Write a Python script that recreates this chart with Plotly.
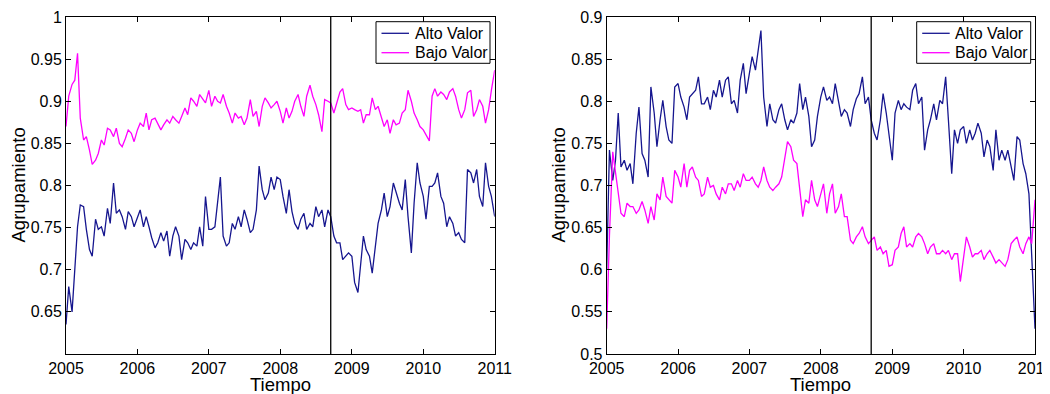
import pandas as pd
import plotly.graph_objects as go

# Semi-monthly sampling dates (1st and 15th of each month), 2005-01-01 .. 2011-01-01
fechas = pd.date_range("2005-01-01", "2011-01-01", freq="SMS")

# Left panel
izq_alto = [
    0.635, 0.68, 0.65, 0.70, 0.751, 0.777, 0.775, 0.748, 0.724, 0.716,
    0.76, 0.748, 0.751, 0.74, 0.773, 0.755, 0.803, 0.767, 0.771, 0.763,
    0.748, 0.769, 0.763, 0.751, 0.763, 0.771, 0.751, 0.763, 0.751, 0.738,
    0.726, 0.732, 0.744, 0.734, 0.746, 0.716, 0.74, 0.751, 0.74, 0.712,
    0.736, 0.732, 0.724, 0.732, 0.728, 0.751, 0.728, 0.787, 0.748, 0.748,
    0.751, 0.783, 0.81, 0.74, 0.728, 0.732, 0.755, 0.748, 0.763, 0.751,
    0.771, 0.76, 0.744, 0.748, 0.771, 0.823, 0.795, 0.783, 0.791, 0.81,
    0.795, 0.81, 0.807, 0.787, 0.767, 0.795, 0.769, 0.755, 0.748, 0.76,
    0.767, 0.748, 0.755, 0.751, 0.775, 0.763, 0.771, 0.751, 0.771, 0.763,
    0.74, 0.732, 0.732, 0.712, 0.716, 0.72,
    0.716, 0.685, 0.673, 0.708, 0.74, 0.724, 0.716, 0.696, 0.732, 0.755,
    0.771, 0.791, 0.763, 0.775, 0.803, 0.791, 0.779, 0.771, 0.807, 0.763,
    0.72, 0.779, 0.827, 0.803, 0.787, 0.76, 0.799, 0.799, 0.803, 0.815,
    0.787, 0.779, 0.751, 0.763, 0.755, 0.74, 0.744, 0.736, 0.732, 0.819,
    0.815, 0.803, 0.819, 0.787, 0.775, 0.827, 0.799, 0.787, 0.763,
]
izq_bajo = [
    0.87, 0.906, 0.92, 0.925, 0.957, 0.88, 0.854, 0.858, 0.842, 0.825,
    0.830, 0.838, 0.854, 0.848, 0.868, 0.866, 0.858, 0.868, 0.85, 0.846,
    0.856, 0.866, 0.862, 0.852, 0.866, 0.874, 0.87, 0.886, 0.866, 0.878,
    0.88, 0.874, 0.866, 0.872, 0.878, 0.874, 0.882, 0.878, 0.874, 0.882,
    0.892, 0.884, 0.904, 0.9, 0.894, 0.908, 0.902, 0.898, 0.913, 0.894,
    0.906, 0.9, 0.898, 0.908, 0.894, 0.886, 0.874, 0.886, 0.88, 0.882,
    0.872, 0.88, 0.902, 0.882, 0.888, 0.87, 0.894, 0.904, 0.898, 0.892,
    0.896, 0.9, 0.888, 0.874, 0.892, 0.88, 0.888, 0.9, 0.908, 0.894,
    0.882, 0.906, 0.919, 0.906, 0.896, 0.884, 0.864, 0.902, 0.9, 0.898,
    0.886, 0.896, 0.911, 0.915, 0.896, 0.89,
    0.892, 0.89, 0.888, 0.89, 0.874, 0.884, 0.884, 0.904, 0.89, 0.894,
    0.88, 0.87, 0.878, 0.862, 0.878, 0.872, 0.874, 0.886, 0.89, 0.913,
    0.9, 0.886, 0.878, 0.87, 0.866, 0.86, 0.853, 0.906, 0.915, 0.906,
    0.911, 0.908, 0.902, 0.911, 0.915, 0.906, 0.89, 0.88, 0.89, 0.91,
    0.913, 0.882, 0.89, 0.902, 0.894, 0.874, 0.89, 0.913, 0.937,
]

# Right panel
der_alto = [
    0.60, 0.742, 0.706, 0.73, 0.786, 0.722, 0.73, 0.718, 0.726, 0.702,
    0.762, 0.793, 0.738, 0.73, 0.71, 0.817, 0.786, 0.746, 0.778, 0.801,
    0.77, 0.754, 0.75, 0.817, 0.821, 0.805, 0.793, 0.778, 0.805, 0.809,
    0.813, 0.829, 0.797, 0.797, 0.805, 0.79, 0.813, 0.805, 0.825, 0.805,
    0.825, 0.829, 0.797, 0.801, 0.786, 0.825, 0.845, 0.809,
    0.835, 0.853, 0.837, 0.861, 0.884, 0.805, 0.77, 0.797, 0.778, 0.774,
    0.79, 0.797, 0.778, 0.766, 0.778, 0.774, 0.786, 0.821, 0.79, 0.805,
    0.782, 0.746, 0.754, 0.782, 0.805, 0.817, 0.801, 0.805, 0.797, 0.821,
    0.801, 0.782, 0.79, 0.786, 0.77, 0.79, 0.803, 0.809, 0.829, 0.797,
    0.805, 0.778, 0.762, 0.754, 0.778, 0.809, 0.786, 0.76,
    0.73, 0.786, 0.801, 0.79, 0.797, 0.793, 0.79, 0.813, 0.821, 0.797,
    0.805, 0.742, 0.766, 0.778, 0.797, 0.778, 0.801, 0.797, 0.829, 0.778,
    0.714, 0.766, 0.75, 0.766, 0.77, 0.75, 0.766, 0.754, 0.762, 0.774,
    0.762, 0.734, 0.754, 0.746, 0.718, 0.766, 0.73, 0.742, 0.73, 0.742,
    0.722, 0.706, 0.758, 0.754, 0.726, 0.714, 0.69, 0.623, 0.53,
]
der_bajo = [
    0.53, 0.64, 0.74, 0.714, 0.69, 0.667, 0.663, 0.679, 0.675, 0.675,
    0.667, 0.671, 0.681, 0.671, 0.655, 0.675, 0.659, 0.69, 0.683, 0.71,
    0.687, 0.683, 0.679, 0.718, 0.71, 0.698, 0.726, 0.698, 0.718, 0.722,
    0.71, 0.706, 0.687, 0.69, 0.71, 0.698, 0.7, 0.69, 0.683, 0.698,
    0.69, 0.702, 0.702, 0.694, 0.706, 0.698, 0.714, 0.706,
    0.706, 0.71, 0.702, 0.698, 0.706, 0.722, 0.706, 0.698, 0.694, 0.698,
    0.702, 0.71, 0.73, 0.752, 0.746, 0.73, 0.726, 0.698, 0.663, 0.683,
    0.679, 0.706, 0.683, 0.675, 0.69, 0.702, 0.667, 0.69, 0.702, 0.667,
    0.675, 0.69, 0.663, 0.663, 0.635, 0.631, 0.639, 0.643, 0.651, 0.639,
    0.631, 0.635, 0.639, 0.623, 0.627, 0.619, 0.623, 0.604,
    0.606, 0.623, 0.627, 0.643, 0.651, 0.627, 0.631, 0.627, 0.639, 0.643,
    0.639, 0.631, 0.619, 0.627, 0.631, 0.619, 0.619, 0.623, 0.619, 0.623,
    0.612, 0.619, 0.619, 0.586, 0.619, 0.639, 0.627, 0.615, 0.619, 0.619,
    0.623, 0.612, 0.619, 0.623, 0.615, 0.608, 0.612, 0.608, 0.604, 0.612,
    0.631, 0.635, 0.639, 0.627, 0.619, 0.631, 0.639, 0.631, 0.683,
]

anios = ["2005", "2006", "2007", "2008", "2009", "2010", "2011"]
izq_yticks = [0.65, 0.7, 0.75, 0.8, 0.85, 0.9, 0.95, 1.0]
izq_ylabels = ["0.65", "0.7", "0.75", "0.8", "0.85", "0.9", "0.95", "1"]
der_yticks = [0.5, 0.55, 0.6, 0.65, 0.7, 0.75, 0.8, 0.85, 0.9]
der_ylabels = ["0.5", "0.55", "0.6", "0.65", "0.7", "0.75", "0.8", "0.85", "0.9"]
series_names = ["Alto Valor", "Bajo Valor"]
crisis = "2008-09-15"

AZUL = "#16168f"
MAGENTA = "#ff00ff"
COLORS = [AZUL, MAGENTA]
FONT = "Liberation Sans, Arial, sans-serif"

fig = go.Figure()
for xa, ya, series in [("x", "y", [izq_alto, izq_bajo]), ("x2", "y2", [der_alto, der_bajo])]:
    for name, vals, col in zip(series_names, series, COLORS):
        fig.add_trace(go.Scatter(x=fechas, y=vals, mode="lines", name=name, showlegend=False,
                                 line=dict(color=col, width=1.3), xaxis=xa, yaxis=ya))

# The page body adds an 8px offset; size the figure so it fills the window exactly
OFF = 8
W, H = 1050 - OFF, 394 - OFF


def px(x):
    return (x - OFF) / W


def py(y):
    return 1 - (y - OFF) / H


dom_y = [py(354), py(17)]
dom_x1 = [px(66), px(494.7)]
dom_x2 = [px(606.7), px(1035)]
tickvals_x = [f"{a}-01-01" for a in anios]

common_x = dict(type="date", range=["2005-01-01", "2011-01-01"], tickvals=tickvals_x, ticktext=anios,
                showgrid=False, zeroline=False, showline=True, linecolor="black", linewidth=1,
                mirror="ticks", ticks="inside", ticklen=5, tickcolor="black", automargin=False,
                ticklabeloverflow="allow",
                tickfont=dict(family=FONT, size=16, color="black"))
common_y = dict(showgrid=False, zeroline=False, showline=True, linecolor="black", linewidth=1,
                mirror="ticks", ticks="inside", ticklen=5, tickcolor="black", automargin=False,
                tickfont=dict(family=FONT, size=16, color="black"))

fig.update_layout(
    width=W, height=H,
    margin=dict(l=0, r=0, t=0, b=0, autoexpand=False),
    paper_bgcolor="white", plot_bgcolor="white",
    showlegend=False,
    xaxis=dict(domain=dom_x1, anchor="y", **common_x),
    yaxis=dict(domain=dom_y, anchor="x", range=[0.6, 1.0], tickvals=izq_yticks, ticktext=izq_ylabels, **common_y),
    xaxis2=dict(domain=dom_x2, anchor="y2", **common_x),
    yaxis2=dict(domain=dom_y, anchor="x2", range=[0.5, 0.9], tickvals=der_yticks, ticktext=der_ylabels, **common_y),
)

for xr in ["x", "x2"]:
    yr = "y" if xr == "x" else "y2"
    fig.add_shape(type="line", xref=xr, yref=f"{yr} domain", x0=crisis, x1=crisis, y0=0, y1=1,
                  line=dict(color="black", width=1.3))

# Legend boxes (MATLAB-style, compact)
for left in [376, 916.7]:
    fig.add_shape(type="rect", xref="paper", yref="paper",
                  x0=px(left), x1=px(left + 114), y0=py(63.3), y1=py(21.7),
                  line=dict(color="black", width=1), fillcolor="white", layer="above")
    for name, col, yc in zip(series_names, COLORS, [33.3, 52.7]):
        fig.add_shape(type="line", xref="paper", yref="paper",
                      x0=px(left + 5.5), x1=px(left + 33), y0=py(yc), y1=py(yc),
                      line=dict(color=col, width=1.3), layer="above")
        fig.add_annotation(text=name, x=px(left + 36.5), y=py(yc), xref="paper", yref="paper",
                           showarrow=False, xanchor="left", yanchor="middle",
                           font=dict(family=FONT, size=16, color="black"))

# Axis titles
for cx, lx in [((dom_x1[0] + dom_x1[1]) / 2, px(18)), ((dom_x2[0] + dom_x2[1]) / 2, px(558))]:
    fig.add_annotation(text="Tiempo", x=cx, y=py(384), xref="paper", yref="paper",
                       showarrow=False, font=dict(family=FONT, size=18.5, color="black"),
                       xanchor="center", yanchor="middle")
    fig.add_annotation(text="Agrupamiento", x=lx, y=py(185.5), xref="paper", yref="paper",
                       showarrow=False, textangle=-90, font=dict(family=FONT, size=18.5, color="black"),
                       xanchor="center", yanchor="middle")

fig.write_html("out.html")
